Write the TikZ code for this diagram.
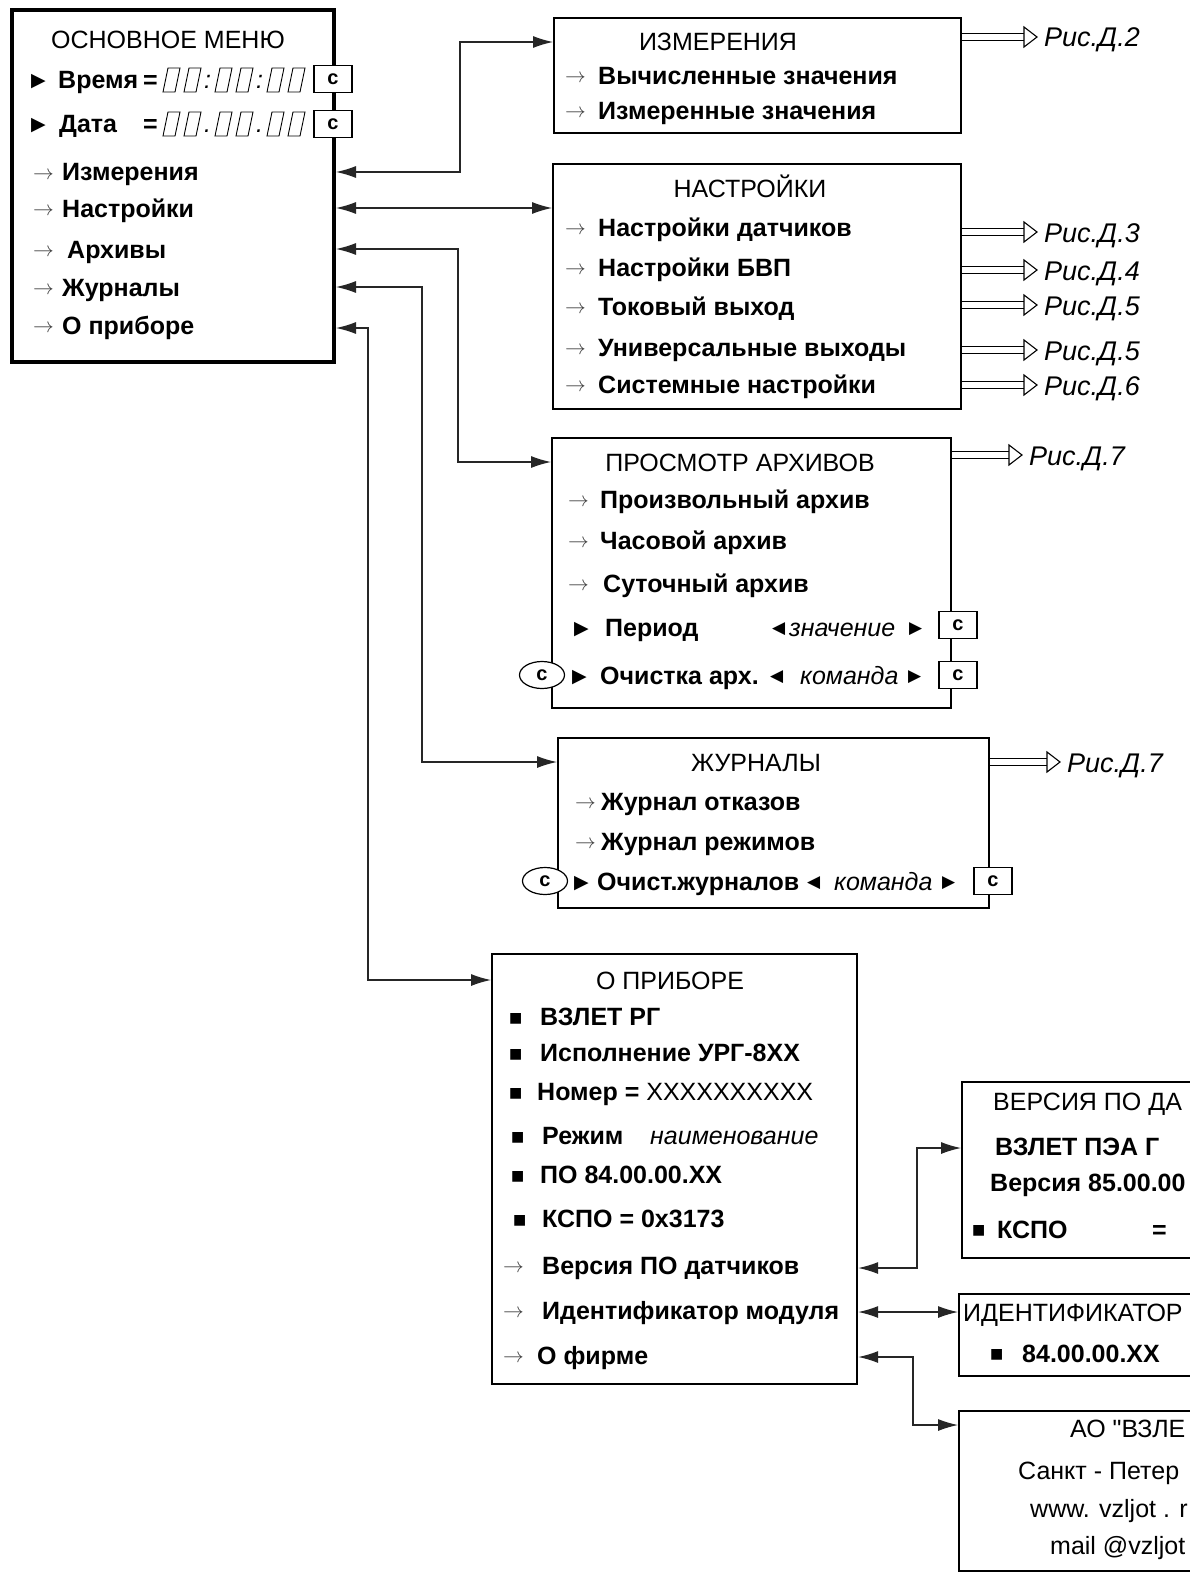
\documentclass[tikz,border=0pt]{standalone}
\usepackage{fontspec}
\setmainfont{Liberation Sans}
\newfontfamily\symf{DejaVu Sans}
\newfontfamily\rawf{Liberation Sans}
\usetikzlibrary{arrows.meta,shapes.geometric}
\newcommand\fsz{\fontsize{25}{30}\selectfont}
\newcommand\fsc{\fontsize{20}{24}\selectfont}
\tikzset{
  tx/.style={inner sep=0pt, anchor=base west, font=\fsz\bfseries},
  txr/.style={inner sep=0pt, anchor=base west, font=\fsz},
  txi/.style={inner sep=0pt, anchor=base west, font=\fsz\itshape},
  ttl/.style={inner sep=0pt, anchor=base, font=\fsz},
  ag/.style={inner sep=0pt, anchor=base west, font=\fontsize{21}{21}\selectfont, text=black!75},
  sy/.style={inner sep=0pt, anchor=base west, font=\symf\fontsize{19}{19}\selectfont},
  syl/.style={inner sep=0pt, anchor=base west, font=\symf\fontsize{17}{17}\selectfont},
  sq/.style={inner sep=0pt, anchor=base west, font=\symf\fontsize{14}{14}\selectfont},
  box/.style={draw, line width=2.2pt, anchor=north west, inner sep=0pt},
  conn/.style={line width=1.2pt, draw=black!85, {Latex[length=20pt,width=12pt]}-{Latex[length=20pt,width=12pt]}},
  refl/.style={double, double distance=5.5pt, line width=1.1pt, shorten >=12pt},
  refh/.style={line width=1.1pt, fill=white, line join=miter},
  rl/.style={inner sep=0pt, anchor=base west, font=\fontsize{27}{30}\selectfont\itshape, xshift=7pt, yshift=-10pt},
  cbox/.style={draw, fill=white, line width=1.2pt, minimum width=38pt, minimum height=27pt, inner sep=0pt, font=\fsc\bfseries},
  cell/.style={draw, fill=white, ellipse, line width=1.2pt, minimum width=45pt, minimum height=27pt, inner sep=0pt, font=\fsc\bfseries},
  lcd/.pic={\draw[line width=0.9pt] (0,12) -- (12,12) -- (17,-12) -- (5,-12) -- cycle;}
}
% row with thin arrow: name, x arrow, x text, y centre, text
\newcommand\rowA[5]{\node[ag] (#1a) at (#2,#4+7) {$\rightarrow$}; \node[tx] (#1) at (#3,#4+9) {#5};}
\newcommand\rowT[5]{\node[sy] (#1a) at (#2,#4+7) {▶}; \node[tx] (#1) at (#3,#4+9) {#5};}
\newcommand\rowS[5]{\node[sq] (#1a) at (#2,#4+6) {■}; \node[tx] (#1) at (#3,#4+9) {#5};}
% reference arrow: from (box east at the level of #2) to #2
\newcommand\refar[2]{\draw[refl] (#1.east|-#2) -- (#2);
  \draw[refh] (#2) ++(-13,-10) -- (#2) -- ++(-13,10) -- cycle;}
\begin{document}
\begin{tikzpicture}[x=1pt,y=-1pt]
\useasboundingbox (0,0) rectangle (1190,1573);
\fill[white] (0,0) rectangle (1190,1573);
\begin{scope}
\clip (0,0) rectangle (1190,1573);
% ---------- boxes ----------
\node[box, line width=4pt, minimum width=322pt, minimum height=352pt] (main) at (10,8) {};
\node[box, minimum width=407pt, minimum height=115pt] (izm) at (553,17) {};
\node[box, minimum width=408pt, minimum height=245pt] (nast) at (552,163) {};
\node[box, minimum width=399pt, minimum height=270pt] (arch) at (551,437) {};
\node[box, minimum width=431pt, minimum height=170pt] (jour) at (557,737) {};
\node[box, minimum width=365pt, minimum height=430pt] (prib) at (491,953) {};
\node[box, minimum width=300pt, minimum height=176pt] (ver) at (961,1081) {};
\node[box, minimum width=300pt, minimum height=82pt] (ident) at (958,1293) {};
\node[box, minimum width=300pt, minimum height=160pt] (firm) at (958,1410) {};
% ---------- main menu ----------
\node[ttl] (mt) at (168,49) {ОСНОВНОЕ МЕНЮ};
\node[sy] (mtr1) at (31,87) {▶};
\node[tx] (mtime) at (58,89) {Время};
\node[tx] (meq1) at (143,89) {=};
\node[sy] (mtr2) at (31,131) {▶};
\node[tx] (mdate) at (59,133) {Дата};
\node[tx] (meq2) at (143,133) {=};
\foreach \xx in {163,184,215,236,267,288} {
  \pic at (\xx,80) {lcd};
  \pic at (\xx,124) {lcd};
}
\node[txi, font=\fsz\mdseries\itshape] (mcol1) at (204,89) {:};
\node[txi, font=\fsz\mdseries\itshape] (mcol2) at (256,89) {:};
\node[txi, font=\fsz\mdseries\itshape] (mdot1) at (204,133) {.};
\node[txi, font=\fsz\mdseries\itshape] (mdot2) at (256,133) {.};
\node[cbox] (mc1) at (333,79) {c};
\node[cbox] (mc2) at (333,124) {c};
\rowA{m1}{33}{62}{172}{Измерения}
\rowA{m2}{33}{62}{208}{Настройки}
\rowA{m3}{33}{67}{249}{Архивы}
\rowA{m4}{33}{62}{287}{Журналы}
\rowA{m5}{33}{62}{325}{О приборе}
% ---------- ИЗМЕРЕНИЯ ----------
\node[ttl] (izt) at (718,51) {ИЗМЕРЕНИЯ};
\rowA{i1}{565}{598}{76}{Вычисленные значения}
\rowA{i2}{565}{598}{111}{Измеренные значения}
% ---------- НАСТРОЙКИ ----------
\node[ttl] (nt) at (750,197) {НАСТРОЙКИ};
\rowA{n1}{565}{598}{227}{Настройки датчиков}
\rowA{n2}{565}{598}{267}{Настройки БВП}
\rowA{n3}{565}{598}{306}{Токовый выход}
\rowA{n4}{565}{598}{347}{Универсальные выходы}
\rowA{n5}{565}{598}{384}{Системные настройки}
% ---------- ПРОСМОТР АРХИВОВ ----------
\node[ttl] (at) at (740,471) {ПРОСМОТР АРХИВОВ};
\rowA{a1}{568}{600}{499}{Произвольный архив}
\rowA{a2}{568}{600}{540}{Часовой архив}
\rowA{a3}{568}{603}{583}{Суточный архив}
\rowT{a4}{574}{605}{627}{Период}
\node[syl] (a4l) at (772,633) {◀};
\node[txi] (a4v) at (789,636) {значение};
\node[syl] (a4r) at (909,633) {▶};
\node[cbox] (a4c) at (958,625) {c};
\rowT{a5}{572}{600}{675}{Очистка арх.}
\node[syl] (a5l) at (770,681) {◀};
\node[txi] (a5v) at (800,684) {команда};
\node[syl] (a5r) at (908,681) {▶};
\node[cbox] (a5c) at (958,675) {c};
\node[cell] (a5e) at (542,675) {c};
% ---------- ЖУРНАЛЫ ----------
\node[ttl] (jt) at (756,771) {ЖУРНАЛЫ};
\rowA{j1}{575}{601}{801}{Журнал отказов}
\rowA{j2}{575}{601}{841}{Журнал режимов}
\rowT{j3}{574}{597}{881}{Очист.журналов}
\node[syl] (j3l) at (807,887) {◀};
\node[txi] (j3v) at (834,890) {команда};
\node[syl] (j3r) at (942,887) {▶};
\node[cbox] (j3c) at (993,881) {c};
\node[cell] (j3e) at (545,881) {c};
% ---------- О ПРИБОРЕ ----------
\node[ttl] (pt) at (670,989) {О ПРИБОРЕ};
\rowS{p1}{509}{540}{1016}{ВЗЛЕТ РГ}
\rowS{p2}{509}{540}{1052}{Исполнение УРГ-8XX}
\rowS{p3}{509}{537}{1091}{Номер = \mdseries XXXXXXXXXX}
\rowS{p4}{511}{542}{1135}{Режим}
\node[txi] (p4v) at (650,1144) {наименование};
\rowS{p5}{511}{540}{1174}{ПО 84.00.00.XX}
\rowS{p6}{513}{542}{1218}{КСПО = 0x3173}
\rowA{p7}{503}{542}{1265}{Версия ПО датчиков}
\rowA{p8}{503}{542}{1310}{Идентификатор модуля}
\rowA{p9}{503}{537}{1355}{О фирме}
% ---------- right boxes (cut by the page edge) ----------
\node[txr] (vt) at (993,1110) {ВЕРСИЯ ПО ДА};
\node[tx] (v1) at (995,1155) {ВЗЛЕТ ПЭА Г};
\node[tx] (v2) at (990,1191) {Версия 85.00.00};
\node[sq] (v3a) at (972,1234) {■};
\node[tx] (v3) at (997,1238) {КСПО};
\node[tx] (v3e) at (1152,1238) {=};
\node[txr] (it) at (963,1321) {ИДЕНТИФИКАТОР};
\node[sq] (i3a) at (990,1358) {■};
\node[tx] (iv) at (1022,1362) {84.00.00.XX};
\node[txr, font=\rawf\fsz] (f1) at (1070,1437) {АО "ВЗЛЕ};
\node[txr] (f2) at (1018,1479) {Санкт - Петер};
\node[txr] (f3) at (1030,1517) {www. vzljot . r};
\node[txr] (f4) at (1050,1554) {mail @vzljot};
% ---------- connectors ----------
\coordinate (y1) at (0,172);
\coordinate (y2) at (0,208);
\coordinate (y3) at (0,249);
\coordinate (y4) at (0,287);
\coordinate (y5) at (0,328);
\coordinate (vx1) at (460,42);
\coordinate (vx3) at (458,462);
\coordinate (vx4) at (422,762);
\coordinate (vx5) at (368,980);
\draw[conn] (main.east|-y1) -| (vx1) -- (izm.west|-vx1);
\draw[conn] (main.east|-y2) -- (nast.west|-y2);
\draw[conn] (main.east|-y3) -| (vx3) -- (arch.west|-vx3);
\draw[conn] (main.east|-y4) -| (vx4) -- (jour.west|-vx4);
\draw[conn] (main.east|-y5) -| (vx5) -- (prib.west|-vx5);
\coordinate (y6) at (0,1268);
\coordinate (y7) at (0,1312);
\coordinate (y8) at (0,1357);
\coordinate (vx6) at (917,1148);
\coordinate (vx8) at (913,1425);
\draw[conn] (prib.east|-y6) -| (vx6) -- (ver.west|-vx6);
\draw[conn] (prib.east|-y7) -- (ident.west|-y7);
\draw[conn] (prib.east|-y8) -| (vx8) -- (firm.west|-vx8);
% ---------- references ----------
\coordinate (r1) at (1037,37);
\coordinate (r2) at (1037,232);
\coordinate (r3) at (1037,270);
\coordinate (r4) at (1037,305);
\coordinate (r5) at (1037,350);
\coordinate (r6) at (1037,385);
\coordinate (r7) at (1022,455);
\coordinate (r8) at (1060,762);
\refar{izm}{r1}
\refar{nast}{r2}
\refar{nast}{r3}
\refar{nast}{r4}
\refar{nast}{r5}
\refar{nast}{r6}
\refar{arch}{r7}
\refar{jour}{r8}
\node[rl] (l1) at (r1) {Рис.Д.2};
\node[rl] (l2) at (r2) {Рис.Д.3};
\node[rl] (l3) at (r3) {Рис.Д.4};
\node[rl] (l4) at (r4) {Рис.Д.5};
\node[rl] (l5) at (r5) {Рис.Д.5};
\node[rl] (l6) at (r6) {Рис.Д.6};
\node[rl] (l7) at (r7) {Рис.Д.7};
\node[rl] (l8) at (r8) {Рис.Д.7};
\end{scope}
\end{tikzpicture}
\end{document}
